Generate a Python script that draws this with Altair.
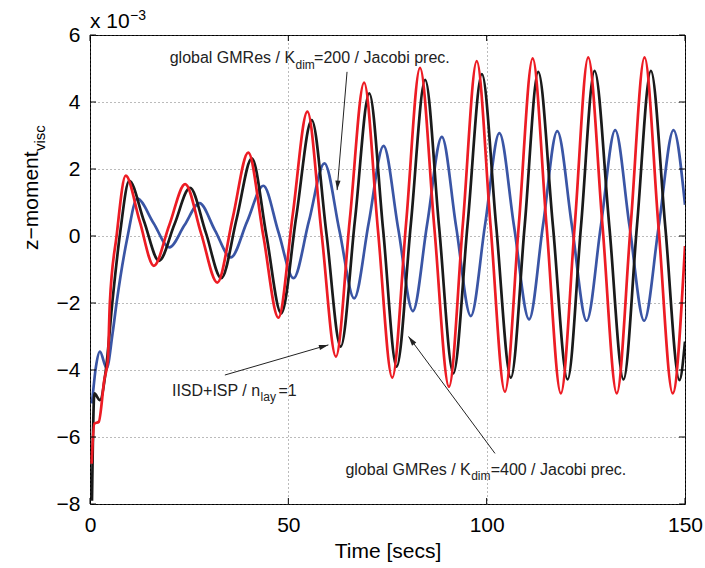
import math
import altair as alt
import pandas as pd

# ---------------- data (values in units of 1e-3) ----------------
red_t = [0.4, 1.1, 2.2, 3.6, 4.5, 5.0, 6.7, 9.0, 12.5, 16.1, 20.0, 24.0, 28.0, 32.1, 36.0, 39.9,
         43.7, 47.5, 51.1, 54.8, 58.4, 62.0, 65.5, 69.1, 72.6, 76.2, 79.7, 83.2, 86.8, 90.5,
         94.0, 97.5, 101.0, 104.6, 108.1, 111.6, 115.1, 118.7, 122.2, 125.6, 129.2, 132.8,
         136.3, 139.8, 143.3, 146.9, 150.0]
red_v = [-6.8, -5.6, -5.55, -4.3, -3.7, -2.0, 0.0, 1.80, 0.45, -0.89, 0.33, 1.55, 0.08, -1.39, 0.55, 2.49,
         0.0, -2.44, 0.63, 3.71, 0.05, -3.60, 0.5, 4.58, 0.17, -4.23, 0.4, 5.02, 0.26, -4.50,
         0.36, 5.22, 0.28, -4.65, 0.33, 5.30, 0.30, -4.70, 0.31, 5.33, 0.31, -4.70,
         0.31, 5.33, 0.31, -4.70, -0.3]

black_t = [0.5, 1.1, 2.5, 4.0, 5.7, 7.6, 9.9, 13.6, 17.4, 21.3, 25.2, 29.2, 33.1, 37.0, 40.8,
           44.5, 48.2, 52.0, 55.9, 59.6, 63.2, 66.8, 70.4, 73.9, 77.3, 80.9, 84.5, 88.0, 91.6,
           95.2, 98.8, 102.4, 106.1, 109.6, 113.0, 116.7, 120.4, 123.8, 127.2, 130.9, 134.5,
           137.9, 141.4, 145.0, 148.6, 150.0]
black_v = [-7.9, -4.7, -4.9, -4.0, -1.9, 0.1, 1.65, 0.45, -0.74, 0.35, 1.44, 0.1, -1.26, 0.53, 2.32,
           0.0, -2.31, 0.58, 3.46, 0.08, -3.30, 0.48, 4.26, 0.18, -3.90, 0.38, 4.66, 0.28, -4.10,
           0.36, 4.83, 0.30, -4.23, 0.33, 4.90, 0.31, -4.28, 0.32, 4.93, 0.32, -4.28,
           0.32, 4.93, 0.32, -4.30, -3.15]

blue_t = [0.5, 1.5, 2.5, 4.2, 5.7, 6.7, 9.5, 11.9, 16.0, 20.0, 23.8, 27.6, 31.5, 35.5, 39.6, 43.7,
          47.5, 51.3, 55.2, 59.1, 62.9, 66.6, 70.3, 74.0, 77.7, 81.4, 85.0, 88.7, 92.3, 96.0,
          99.6, 103.2, 106.9, 110.7, 114.2, 117.8, 121.5, 125.2, 128.8, 132.4, 136.0, 139.7,
          143.4, 147.1, 150.0]
blue_v = [-5.0, -3.9, -3.45, -3.95, -2.9, -2.0, 0.0, 1.12, 0.39, -0.34, 0.32, 0.98, 0.17, -0.64, 0.43, 1.50,
          0.12, -1.26, 0.45, 2.17, 0.15, -1.86, 0.42, 2.69, 0.22, -2.24, 0.36, 2.96, 0.28, -2.39,
          0.34, 3.07, 0.29, -2.49, 0.32, 3.13, 0.30, -2.53, 0.31, 3.16, 0.31, -2.53,
          0.31, 3.16, 0.93]

x_ticks = [0, 50, 100, 150]
y_ticks = [-8, -6, -4, -2, 0, 2, 4, 6]

# annotations
ann_main_x = [51.7, 42.9, 96.0]
ann_main_y = [5.16, -4.77, -7.13]
ann_main_txt = ["global GMRes / K", "IISD+ISP / n", "global GMRes / K"]
ann_sub_x = [51.8, 43.0, 96.1]
ann_sub_y = [4.98, -4.92, -7.29]
ann_sub_txt = ["dim", "lay", "dim"]
ann_rest_x = [56.5, 47.5, 101.0]
ann_rest_txt = ["=200 / Jacobi prec.", "=1", "=400 / Jacobi prec."]

arrow_x1 = [64.8, 34.0, 102.1]
arrow_y1 = [4.90, -4.15, -6.49]
arrow_x2 = [62.3, 60.1, 80.3]
arrow_y2 = [1.37, -3.25, -3.00]

# ---------------- chart ----------------
W, H = 595, 469
FONT = "Liberation Sans"
RED, BLACK, BLUE = "#ed1c24", "#1a1a1a", "#3a55a5"

xs = alt.Scale(domain=[0, 150], nice=False, zero=False)
ys = alt.Scale(domain=[-8, 6], nice=False, zero=False)

x_axis = alt.Axis(values=x_ticks, title="Time [secs]", grid=True, domain=False, ticks=False,
                  labelFontSize=21, labelPadding=10, titleFontSize=21, titlePadding=5,
                  titleFontWeight="normal", labelFont=FONT, titleFont=FONT, labelFlush=False,
                  labelColor="black", titleColor="black", format="d",
                  gridColor="#555", gridDash=[1, 3], gridWidth=1, gridOpacity=0.8)
y_axis = alt.Axis(values=y_ticks, title=None, grid=True, domain=False, ticks=False,
                  labelFontSize=21, labelPadding=10, labelFont=FONT, labelColor="black", format="d",
                  labelFlush=False,
                  gridColor="#555", gridDash=[1, 3], gridWidth=1, gridOpacity=0.8)


def X(field):
    return alt.X(field, type="quantitative", scale=xs, axis=x_axis)


def Y(field):
    return alt.Y(field, type="quantitative", scale=ys, axis=y_axis)


def line(t, v, color):
    return alt.Chart(pd.DataFrame({"t": t, "v": v})).mark_line(
        interpolate="monotone", color=color, strokeWidth=2.7, clip=True
    ).encode(x=X("t"), y=Y("v"))


blue = line(blue_t, blue_v, BLUE)
black = line(black_t, black_v, BLACK)
red = line(red_t, red_v, RED)

# inward ticks (MATLAB style box)
xt = pd.DataFrame({"t": x_ticks})
yt = pd.DataFrame({"v": y_ticks})
tick_b = alt.Chart(xt).mark_rule(color="black", strokeWidth=1).encode(
    x=X("t"), y=alt.value(H), y2=alt.value(H - 6))
tick_t = alt.Chart(xt).mark_rule(color="black", strokeWidth=1).encode(
    x=X("t"), y=alt.value(0), y2=alt.value(6))
tick_l = alt.Chart(yt).mark_rule(color="black", strokeWidth=1).encode(
    y=Y("v"), x=alt.value(0), x2=alt.value(6))
tick_r = alt.Chart(yt).mark_rule(color="black", strokeWidth=1).encode(
    y=Y("v"), x=alt.value(W), x2=alt.value(W - 6))

# arrows
arr = pd.DataFrame({"x1": arrow_x1, "y1": arrow_y1, "x2": arrow_x2, "y2": arrow_y2})
sx, sy = W / 150.0, H / 14.0
arr["ang"] = [
    (math.degrees(math.atan2((b - a) * sx, (d - c) * sy)) + 360) % 360
    for a, b, c, d in zip(arrow_x1, arrow_x2, arrow_y1, arrow_y2)
]
arrow_lines = alt.Chart(arr).mark_rule(color="#222", strokeWidth=1).encode(
    x=X("x1"), y=Y("y1"), x2="x2:Q", y2="y2:Q")
arrow_heads = alt.Chart(arr).mark_point(
    shape="M0,0 L-0.55,2 L0.55,2 Z", filled=True, color="#222", opacity=1, size=90
).encode(x=X("x2"), y=Y("y2"), angle=alt.Angle("ang:Q", scale=None))

# annotation texts
main_df = pd.DataFrame({"x": ann_main_x, "y": ann_main_y, "txt": ann_main_txt})
sub_df = pd.DataFrame({"x": ann_sub_x, "y": ann_sub_y, "txt": ann_sub_txt})
rest_df = pd.DataFrame({"x": ann_rest_x, "y": ann_main_y, "txt": ann_rest_txt})


def txt(df, align, size):
    return alt.Chart(df).mark_text(
        align=align, baseline="alphabetic", fontSize=size, font=FONT, color="#222"
    ).encode(x=X("x"), y=Y("y"), text="txt:N")


t_main = txt(main_df, "right", 16)
t_sub = txt(sub_df, "left", 12)
t_rest = txt(rest_df, "left", 16)

# exponent label and y-axis title (with subscript)
one = pd.DataFrame({"a": [0]})
exp_main = alt.Chart(one).mark_text(align="left", baseline="alphabetic", fontSize=21, font=FONT,
                                    color="black").encode(
    x=alt.value(0), y=alt.value(-7), text=alt.value("x 10"))
exp_sup = alt.Chart(one).mark_text(align="left", baseline="alphabetic", fontSize=14, font=FONT,
                                   color="black").encode(
    x=alt.value(40), y=alt.value(-15), text=alt.value("\u22123"))
ytitle_main = alt.Chart(one).mark_text(align="left", baseline="alphabetic", fontSize=21, font=FONT,
                                       color="black", angle=270).encode(
    x=alt.value(-52), y=alt.value(215), text=alt.value("z\u2212moment"))
ytitle_sub = alt.Chart(one).mark_text(align="left", baseline="alphabetic", fontSize=15, font=FONT,
                                      color="black", angle=270).encode(
    x=alt.value(-45), y=alt.value(116), text=alt.value("visc"))

chart = alt.layer(
    blue, black, red, tick_b, tick_t, tick_l, tick_r,
    arrow_lines, arrow_heads, t_main, t_sub, t_rest,
    exp_main, exp_sup, ytitle_main, ytitle_sub,
).properties(
    width=W, height=H,
    autosize=alt.AutoSizeParams(type="none"),
    padding={"left": 90, "top": 35, "right": 20, "bottom": 64},
    background="white",
).configure_view(
    stroke="black", strokeWidth=1
)

chart.save("out.html", embed_options={"renderer": "svg", "actions": False})
